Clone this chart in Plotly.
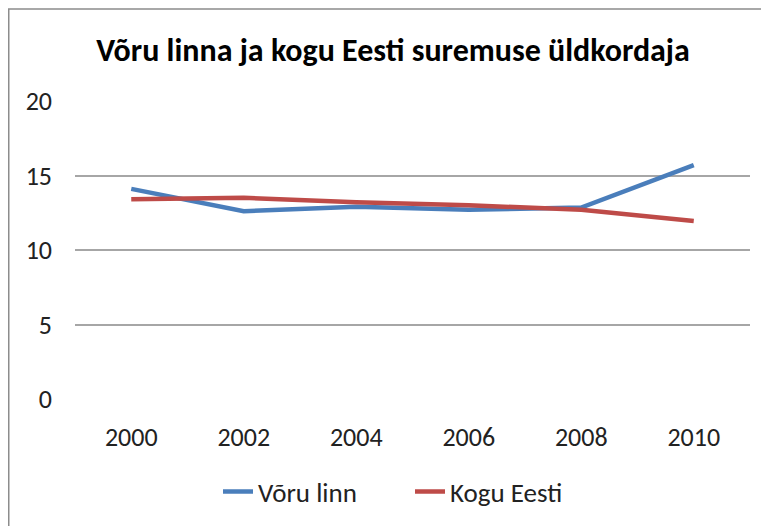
import plotly.graph_objects as go

years = ["2000", "2002", "2004", "2006", "2008", "2010"]
voru_linn = [14.1, 12.6, 12.9, 12.7, 12.85, 15.7]
kogu_eesti = [13.4, 13.5, 13.2, 13.0, 12.7, 11.95]
y_ticks = [0, 5, 10, 15, 20]

FONT = "Carlito, Liberation Sans Narrow, Liberation Sans, Arial, sans-serif"

# page body has an 8px margin; figure coords = page coords - 8
L, T, R, B = 67, 93, 742, 391
W, H = 769, 526

fig = go.Figure()
fig.add_trace(go.Scatter(x=years, y=voru_linn, mode="lines", name="Võru linn",
                         line=dict(color="#4a7ebb", width=4.5)))
fig.add_trace(go.Scatter(x=years, y=kogu_eesti, mode="lines", name="Kogu Eesti",
                         line=dict(color="#be4b48", width=4.5)))

fig.update_layout(
    width=W, height=H,
    margin=dict(l=L, r=W - R, t=T, b=H - B),
    paper_bgcolor="white", plot_bgcolor="white",
    font=dict(family=FONT, color="#222222", size=26),
    title=dict(text="<b>Võru linna ja kogu Eesti suremuse üldkordaja</b>",
               x=385 / W, xanchor="center", xref="container",
               y=1 - 42 / H, yanchor="middle", yref="container",
               font=dict(family=FONT, size=32, color="#000000")),
    showlegend=True,
    legend=dict(orientation="h", x=(210 - L) / (R - L), xanchor="left",
                y=(B - 484) / (B - T), yanchor="middle",
                font=dict(family=FONT, size=27, color="#222222"),
                entrywidth=147, entrywidthmode="pixels",
                tracegroupgap=0, bgcolor="rgba(0,0,0,0)"),
    xaxis=dict(type="category", range=[-0.5, 5.5], showgrid=False, zeroline=False,
               showline=False, ticks="", ticklabelstandoff=20,
               tickfont=dict(family=FONT, size=26, color="#222222")),
    yaxis=dict(range=[0, 20], tickvals=y_ticks, showgrid=True, gridcolor="#a6a6a6",
               gridwidth=1.5, zeroline=False, showline=False, ticks="",
               ticklabelstandoff=22,
               tickfont=dict(family=FONT, size=26, color="#222222")),
    shapes=[dict(type="rect", xref="paper", yref="paper",
                 x0=(0.75 - L) / (R - L), x1=1.3, y0=-0.8, y1=(B - 1) / (B - T),
                 line=dict(color="#8c8c8c", width=1.5), fillcolor="rgba(0,0,0,0)",
                 layer="below")],
)

fig.write_html("out.html")
